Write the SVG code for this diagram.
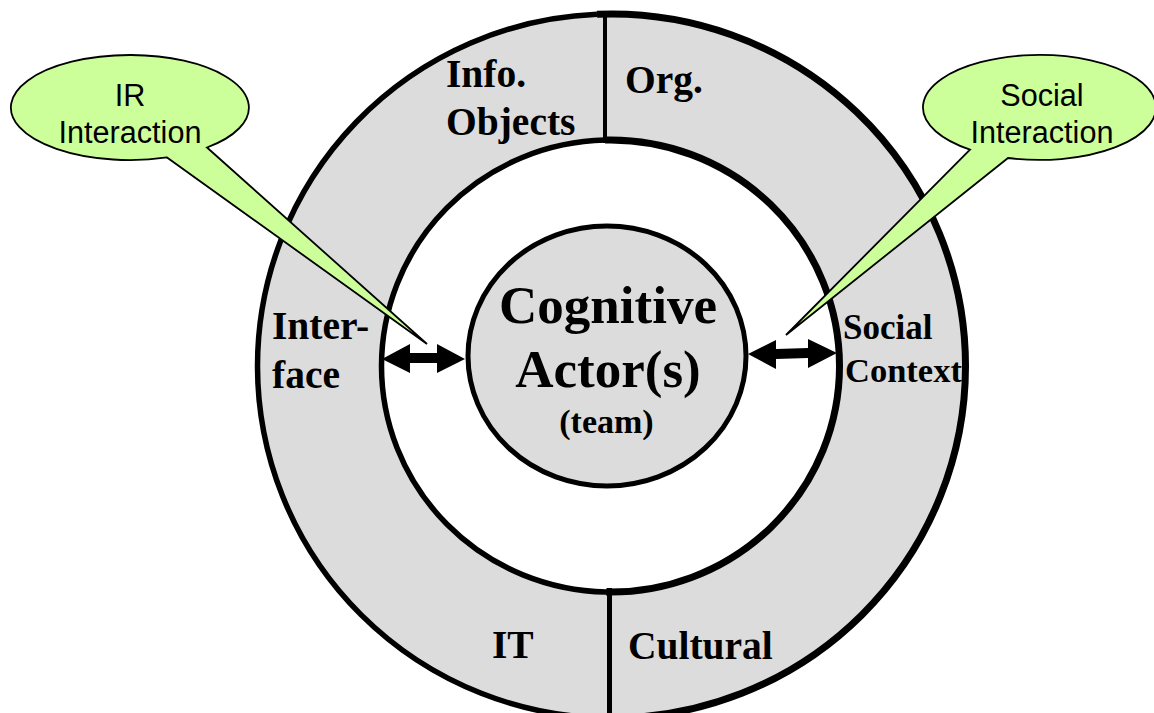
<svg xmlns="http://www.w3.org/2000/svg" width="1154" height="713" viewBox="0 0 1154 713">
<style>
.b{font-family:"Liberation Serif",serif;font-weight:bold;fill:#000}
.l{font-size:39.5px}
.s{font-family:"Liberation Sans",sans-serif;fill:#000;font-size:30.6px;text-anchor:middle}
.callout{fill:#ccff99;stroke:#000;stroke-width:1.8;stroke-linejoin:miter}
.arc{fill:none;stroke:#000}
.a{fill:#000}
</style>
<rect width="1154" height="713" fill="#fff"/>
<g id="outer-ring">
<ellipse cx="611.5" cy="366" rx="354" ry="352" fill="#dcdcdc"/>
<path class="arc" stroke-width="5.5" d="M597 14.3A354 352 0 0 0 257.5 366A354 352 0 0 0 611.5 718"/>
<path class="arc" stroke-width="7" d="M597 14.3A354 352 0 0 1 965.5 366A354 352 0 0 1 611.5 718"/>
<ellipse cx="610.5" cy="366" rx="229" ry="226" fill="#fff"/>
<path class="arc" stroke-width="5.5" d="M605 140.1A229 226 0 0 0 381.5 366A229 226 0 0 0 606 592"/>
<path class="arc" stroke-width="7" d="M605 140.1A229 226 0 0 1 839.5 366A229 226 0 0 1 606 592"/>
</g>
<g id="connectors">
<path d="M605 14V143" stroke="#000" stroke-width="4" fill="none"/>
<path d="M609.5 588V713" stroke="#000" stroke-width="5" fill="none"/>
<path class="a" d="M382 359L410 344V353H437V344L465 359L437 373V363H410V373Z"/>
<path class="a" d="M748 354L776 340V349L808 348V339L837 353L808 368V358L776 359V369Z"/>
</g>
<g id="cognitive-actor">
<ellipse cx="607" cy="356" rx="139" ry="130" fill="#dcdcdc" stroke="#000" stroke-width="5"/>
<text class="b" x="608" y="323" font-size="53" text-anchor="middle">Cognitive</text>
<text class="b" x="608" y="387" font-size="53" text-anchor="middle">Actor(s)</text>
<text class="b" x="606.5" y="433" font-size="34" text-anchor="middle">(team)</text>
</g>
<g id="info-objects"><text class="b l" x="446" y="87">Info.</text><text class="b l" x="446" y="135">Objects</text></g>
<g id="org"><text class="b l" x="625" y="93">Org.</text></g>
<g id="interface"><text class="b l" x="272" y="339">Inter-</text><text class="b l" x="272" y="388">face</text></g>
<g id="social-context"><text class="b" x="843" y="339" font-size="35">Social</text><text class="b" x="845" y="382" font-size="34.5">Context</text></g>
<g id="it"><text class="b l" x="492" y="658">IT</text></g>
<g id="cultural"><text class="b l" x="628" y="659">Cultural</text></g>
<g id="ir-interaction">
<path class="callout" d="M207 147.5A119 52.5 0 1 0 167 157.4L427 344Z"/>
<text class="s" x="130" y="106">IR</text>
<text class="s" x="130" y="143">Interaction</text>
</g>
<g id="social-interaction">
<path class="callout" d="M970 149.6A116.5 52.5 0 1 1 1008 158L786 335Z"/>
<text class="s" x="1042" y="106">Social</text>
<text class="s" x="1042" y="143">Interaction</text>
</g>
</svg>
